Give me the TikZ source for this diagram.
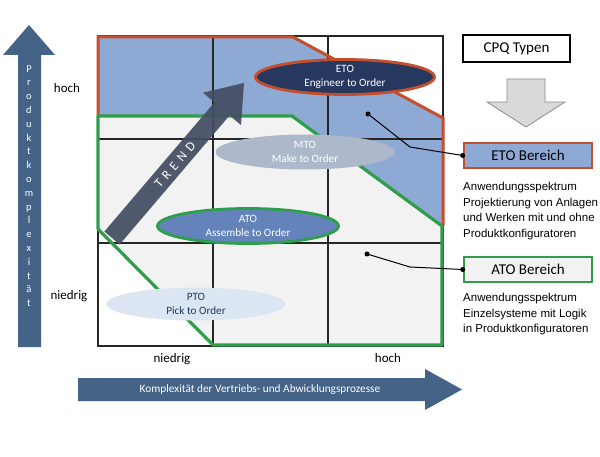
\documentclass[tikz,border=0pt]{standalone}
\usepackage{fontspec}
\setmainfont{Carlito}
\newfontfamily\arialf{Liberation Sans}
\newfontfamily\trendfont[LetterSpace=38]{Carlito}
\usetikzlibrary{shapes.geometric}
\definecolor{etoblue}{RGB}{142,169,212}
\definecolor{lgray}{RGB}{242,242,242}
\definecolor{redb}{RGB}{197,78,45}
\definecolor{greenb}{RGB}{46,158,74}
\definecolor{navy}{RGB}{39,56,95}
\definecolor{mtoc}{RGB}{173,185,202}
\definecolor{atoc}{RGB}{99,131,186}
\definecolor{ptoc}{RGB}{220,230,242}
\definecolor{ptot}{RGB}{31,56,100}
\definecolor{trendc}{RGB}{68,78,98}
\definecolor{axisc}{RGB}{69,98,135}
\definecolor{arrgray}{RGB}{217,217,217}
\begin{document}
\begin{tikzpicture}[x=1pt,y=-1pt,
  ell/.style={ellipse, inner sep=0pt, minimum width=179pt, minimum height=35pt, align=center, font=\fontsize{11.2}{14}\selectfont},
  lbl/.style={font=\fontsize{13}{15}\selectfont, inner sep=0pt},
  typbox/.style={draw, line width=2.6pt, minimum width=128pt, minimum height=25pt, inner sep=0pt, font=\fontsize{15}{17}\selectfont},
  desc/.style={anchor=north west, align=left, inner sep=0pt, font=\arialf\fontsize{11.5}{15.5}\selectfont},
  dot/.style={circle, fill=black, inner sep=0pt, minimum size=5pt},
  conn/.style={draw=black, line width=1pt},
  gridline/.style={draw=black!85, line width=1.4pt},
]
\useasboundingbox (0,0) rectangle (600,457);
\fill[white] (0,0) rectangle (600,457);
% regions
\fill[etoblue] (98,36) -- (293,36) -- (443,117) -- (443,226) -- (292,116) -- (98,116) -- cycle;
\fill[lgray] (98,116) -- (292,116) -- (443,226) -- (443,346) -- (213,346) -- (98,229) -- cycle;
% grid
\draw[gridline] (98,36) rectangle (443,346);
\draw[gridline] (213,36) -- (213,346);
\draw[gridline] (328,36) -- (328,346);
\draw[gridline] (98,139) -- (443,139);
\draw[gridline] (98,243) -- (443,243);
% outlines
\draw[redb, line width=3pt] (98,116) -- (98,37) -- (293,37) -- (443,118) -- (443,226);
\draw[greenb, line width=3.2pt, line join=round] (98,116) -- (292,116) -- (442,226) -- (442,345) -- (213,345) -- (98,229) -- cycle;
% ellipses
\node[ell, fill=navy, draw=redb, line width=2.8pt, text=white] (eto) at (345,77) {ETO\\Engineer to Order};
\node[ell, fill=mtoc, text=white] (mto) at (305,152) {MTO\\Make to Order};
\node[ell, fill=atoc, draw=greenb, line width=2.8pt, text=white, minimum width=181pt] (ato) at (248,226) {ATO\\Assemble to Order};
\node[ell, fill=ptoc, text=ptot, minimum height=33pt] (pto) at (196,304) {PTO\\Pick to Order};
% trend arrow
\fill[trendc, fill opacity=0.93] (104.4,231.5) -- (214.4,102.4) -- (203.0,92.7) -- (244,83) -- (241.0,125.1) -- (229.6,115.4) -- (119.6,244.5) -- cycle;
\node[rotate=49.6, text=white, inner sep=0pt, font=\trendfont\fontsize{13}{14}\selectfont] (trend) at (175,165) {TREND};
% axis arrows
\fill[axisc] (18,347) -- (18,55) -- (3,55) -- (29,25) -- (55,55) -- (41,55) -- (41,347) -- cycle;
\node[text=white, align=center, inner sep=0pt, font=\fontsize{10.5}{13.8}\selectfont] (ylab) at (29,186) {P\\r\\o\\d\\u\\k\\t\\k\\o\\m\\p\\l\\e\\x\\i\\t\\ä\\t};
\fill[axisc] (78,378) -- (425,378) -- (425,369) -- (462,389.5) -- (425,410) -- (425,401) -- (78,401) -- cycle;
\node[text=white, inner sep=0pt, font=\fontsize{11.3}{12}\selectfont] (xlab) at (260,390) {Komplexität der Vertriebs- und Abwicklungsprozesse};
% axis labels
\node[lbl] (hy) at (67,88) {hoch};
\node[lbl] (ny) at (69,296) {niedrig};
\node[lbl] (nx) at (172,359) {niedrig};
\node[lbl] (hx) at (388,358) {hoch};
% right side
\node[typbox, fill=white, minimum width=107pt, minimum height=27pt, line width=2.2pt] (cpq) at (516.5,48.5) {CPQ Typen};
\filldraw[fill=arrgray, draw=gray!90, line width=0.8pt] (507,79) -- (545,79) -- (545,102) -- (565,102) -- (526,127) -- (487,102) -- (507,102) -- cycle;
\node[typbox, fill=etoblue, draw=redb] (etob) at (528,155.5) {ETO Bereich};
\node[typbox, fill=lgray, draw=greenb] (atob) at (528,269.5) {ATO Bereich};
\node[desc] (etod) at (463,182) {Anwendungsspektrum\\Projektierung von Anlagen\\und Werken mit und ohne\\Produktkonfiguratoren};
\node[desc] (atod) at (463,293) {Anwendungsspektrum\\Einzelsysteme mit Logik\\in Produktkonfiguratoren};
% connectors
\node[dot] (d1) at (368,114) {};
\coordinate (k1) at (410,147);
\draw[conn] (d1.center) -- (k1) -- (etob.west);
\node[dot] (e1) at (etob.west) {};
\node[dot] (d2) at (367,254) {};
\coordinate (k2) at (410,267);
\draw[conn] (d2.center) -- (k2) -- (atob.west);
\node[dot] (e2) at (atob.west) {};
\end{tikzpicture}
\end{document}
